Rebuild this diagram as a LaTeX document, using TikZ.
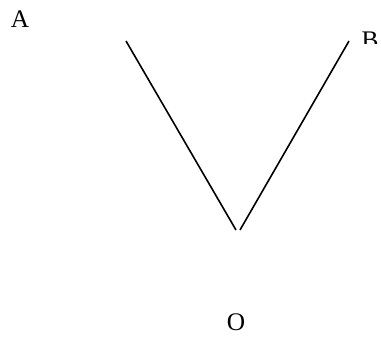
\documentclass[tikz,border=0pt]{standalone}
\usepackage{fontspec}
\setmainfont{Liberation Serif}
\begin{document}
\begin{tikzpicture}[x=0.75pt,y=-0.75pt,
  lbl/.style={inner sep=0pt,font=\fontsize{19}{19}\selectfont},
  ray/.style={line width=1.2pt,black}]
\useasboundingbox (0,0) rectangle (381,336);
\node[lbl] (A) at (20,19) {A};
\begin{scope}
  \clip (355,20) rectangle (381,43);
  \node[lbl] (B) at (370,40) {B};
\end{scope}
\node[lbl] (O) at (236,322) {O};
\coordinate (a1) at (126,41);
\coordinate (a2) at (236,230);
\coordinate (b1) at (349,41);
\coordinate (b2) at (240,230);
\draw[ray] (a1) -- (a2);
\draw[ray] (b1) -- (b2);
\end{tikzpicture}
\end{document}
